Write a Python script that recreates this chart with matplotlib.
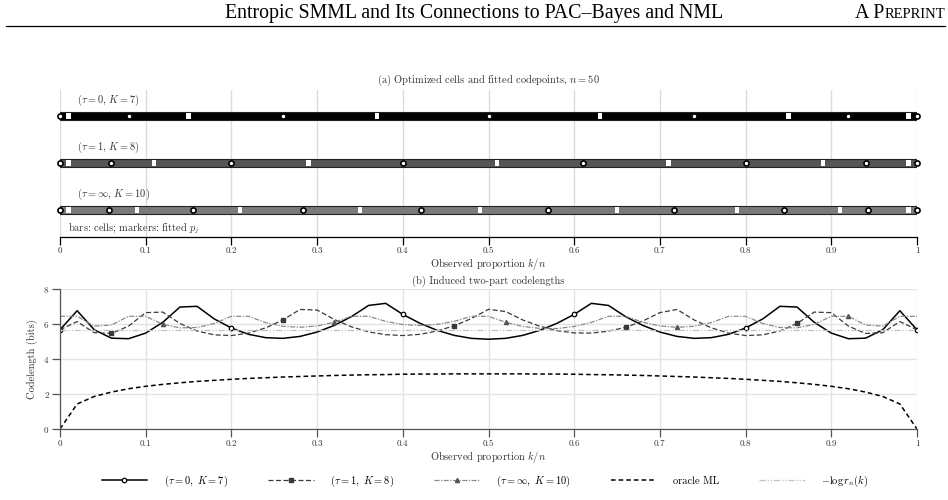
import matplotlib
matplotlib.use('Agg')

import matplotlib.pyplot as plt
import numpy as np

plt.rcParams['font.family'] = ['cmr10', 'DejaVu Serif']
plt.rcParams['mathtext.fontset'] = 'cm'
plt.rcParams['axes.unicode_minus'] = False
plt.rcParams['axes.formatter.use_mathtext'] = True

n = 50
k = np.arange(0, n + 1)
prop = k / n

# panel (a): cell boundaries and fitted codepoints
labels = [r'$(\tau = 0,\, K = 7)$', r'$(\tau = 1,\, K = 8)$', r'$(\tau = \infty,\, K = 10)$']
bounds_t0 = [0.01, 0.15, 0.37, 0.63, 0.85, 0.99]
bounds_t1 = [0.01, 0.11, 0.29, 0.51, 0.71, 0.89, 0.99]
bounds_tinf = [0.01, 0.09, 0.21, 0.35, 0.49, 0.65, 0.79, 0.91, 0.99]
p_t0 = [0.0, 0.08, 0.26, 0.50, 0.74, 0.92, 1.0]
p_t1 = [0.0, 0.06, 0.20, 0.40, 0.61, 0.80, 0.94, 1.0]
p_tinf = [0.0, 0.057, 0.155, 0.283, 0.421, 0.569, 0.717, 0.845, 0.943, 1.0]

# panel (b): codelengths in bits at k/n, k = 0..50
L_t0 = [5.67, 6.76, 5.67, 5.19, 5.16, 5.48, 6.10, 6.97, 7.01, 6.29, 5.77, 5.41, 5.22,
        5.18, 5.29, 5.54, 5.92, 6.42, 7.06, 7.18, 6.55, 6.04, 5.64, 5.35, 5.18, 5.13,
        5.18, 5.35, 5.64, 6.04, 6.55, 7.18, 7.06, 6.42, 5.92, 5.54, 5.29, 5.18, 5.22,
        5.41, 5.77, 6.29, 7.01, 6.97, 6.10, 5.48, 5.16, 5.19, 5.67, 6.76, 5.67]
L_t1 = [5.67, 6.14, 5.50, 5.46, 5.88, 6.65, 6.68, 6.03, 5.60, 5.38, 5.34, 5.48, 5.78,
        6.23, 6.83, 6.80, 6.26, 5.84, 5.55, 5.39, 5.34, 5.41, 5.60, 5.90, 6.31, 6.84,
        6.71, 6.23, 5.87, 5.62, 5.49, 5.48, 5.59, 5.81, 6.17, 6.65, 6.83, 6.23, 5.78,
        5.48, 5.34, 5.38, 5.60, 6.03, 6.68, 6.65, 5.88, 5.46, 5.50, 6.14, 5.67]
L_tinf = [6.44, 6.44, 5.88, 5.94, 6.44, 6.44, 5.98, 5.78, 5.80, 6.03, 6.44, 6.44, 6.08,
          5.87, 5.81, 5.89, 6.10, 6.44, 6.44, 6.15, 5.97, 5.92, 5.98, 6.15, 6.44, 6.44,
          6.10, 5.86, 5.75, 5.74, 5.86, 6.09, 6.44, 6.44, 6.10, 5.89, 5.81, 5.87, 6.08,
          6.44, 6.44, 6.03, 5.80, 5.78, 5.98, 6.44, 6.44, 5.94, 5.88, 6.44, 6.44]
L_oracle = [0.0, 1.43, 1.86, 2.11, 2.30, 2.44, 2.55, 2.64, 2.72, 2.78, 2.84, 2.89, 2.93,
            2.97, 3.00, 3.03, 3.06, 3.08, 3.10, 3.11, 3.13, 3.14, 3.14, 3.15, 3.15, 3.15,
            3.15, 3.15, 3.14, 3.14, 3.13, 3.11, 3.10, 3.08, 3.06, 3.03, 3.00, 2.97, 2.93,
            2.89, 2.84, 2.78, 2.72, 2.64, 2.55, 2.44, 2.30, 2.11, 1.86, 1.43, 0.0]
L_nml = [5.67] * (n + 1)

xticks = [0, 0.1, 0.2, 0.3, 0.4, 0.5, 0.6, 0.7, 0.8, 0.9, 1]
xticklabels = ['0', '0.1', '0.2', '0.3', '0.4', '0.5', '0.6', '0.7', '0.8', '0.9', '1']

txt = '#333333'
fig = plt.figure(figsize=(9.48, 5.0), dpi=100)

# page header
fig.text(474 / 948, 1 - 18 / 500, 'Entropic SMML and Its Connections to PAC\u2013Bayes and NML',
         family='Liberation Serif', fontsize=14.3, ha='center', va='baseline')
t_small = fig.text(945 / 948, 1 - 18 / 500, 'REPRINT', family='Liberation Serif',
                   fontsize=10.5, ha='right', va='baseline')
r = fig.canvas.get_renderer()
x_left = t_small.get_window_extent(r).x0 / fig.bbox.width
fig.text(x_left, 1 - 18 / 500, 'A P', family='Liberation Serif', fontsize=14.3,
         ha='right', va='baseline')
fig.add_artist(plt.Line2D([6 / 948, 945 / 948], [1 - 26 / 500] * 2, color='black', lw=0.9))

# ---- panel (a)
ax1 = fig.add_axes([60 / 948, 1 - 237 / 500, 857 / 948, 147 / 500])
rows = [2, 1, 0]
bar_cols = ['#000000', '#555555', '#7a7a7a']
bounds = [bounds_t0, bounds_t1, bounds_tinf]
points = [p_t0, p_t1, p_tinf]
for y, c, b, p, lab in zip(rows, bar_cols, bounds, points, labels):
    ax1.barh(y, 1.0, left=0, height=0.15, color=c, edgecolor='#222222', lw=0.8, zorder=2)
    ax1.barh([y] * len(b), 0.005, left=np.array(b) - 0.0025, height=0.12,
             color='white', lw=0, zorder=3)
    ax1.plot(p, [y] * len(p), 'o', mfc='white', mec='black', ms=3.7, mew=1.2,
             clip_on=False, zorder=5)
    ax1.text(0.0195, y + 0.33, lab, fontsize=7.5, color=txt, ha='left', va='center')
ax1.text(0.009, -0.40, r'bars: cells; markers: fitted $p_j$', fontsize=7.5, color=txt,
         ha='left', va='center')
ax1.set_xlim(0, 1)
ax1.set_ylim(-0.574, 2.553)
ax1.set_yticks([])
ax1.set_xticks(xticks)
ax1.set_xticklabels(xticklabels)
ax1.xaxis.grid(True, color='#dcdcdc', lw=1)
ax1.set_axisbelow(True)
for s in ['left', 'top', 'right']:
    ax1.spines[s].set_visible(False)
ax1.spines['bottom'].set_linewidth(0.9)
ax1.tick_params(axis='x', length=6, width=0.9, pad=1, labelsize=6.5, labelcolor=txt)
ax1.set_xlabel(r'Observed proportion $k/n$', fontsize=7.5, color=txt, labelpad=0.5)
ax1.set_title(r'(a) Optimized cells and fitted codepoints, $n = 50$', fontsize=7.5,
              color=txt, pad=5)

# ---- panel (b)
ax2 = fig.add_axes([60 / 948, 1 - 429 / 500, 857 / 948, 140 / 500])
h1, = ax2.plot(prop, L_t0, color='black', lw=1.1, ls='-', marker='o', ms=3.2,
               mfc='white', mec='black', mew=0.9, markevery=10,
               label=r'$(\tau = 0,\ K = 7)$')
h2, = ax2.plot(prop, L_t1, color='#3a3a3a', lw=0.9, ls=(0, (4, 2)), marker='s', ms=2.2,
               mfc='#3a3a3a', mec='#3a3a3a', markevery=(3, 10),
               label=r'$(\tau = 1,\ K = 8)$')
h3, = ax2.plot(prop, L_tinf, color='#8a8a8a', lw=0.9, ls=(0, (4, 1.2, 1, 1.2)), marker='^',
               ms=3, mfc='#555555', mec='#555555', markevery=(6, 10),
               label=r'$(\tau = \infty,\ K = 10)$')
h4, = ax2.plot(prop, L_oracle, color='black', lw=1.1, ls=(0, (3, 2)), label='oracle ML')
h5, = ax2.plot(prop, L_nml, color='#c2c2c2', lw=0.9, ls=(0, (5, 1.5, 1, 1.5, 1, 1.5)),
               label=r'$-\log r_n(k)$')
ax2.set_xlim(0, 1)
ax2.set_ylim(0, 8)
ax2.set_xticks(xticks)
ax2.set_xticklabels(xticklabels)
ax2.set_yticks([0, 2, 4, 6, 8])
ax2.grid(True, color='#e3e3e3', lw=1)
ax2.set_axisbelow(True)
for s in ['top', 'right']:
    ax2.spines[s].set_visible(False)
for s in ['left', 'bottom']:
    ax2.spines[s].set_color('#555555')
    ax2.spines[s].set_linewidth(0.9)
ax2.tick_params(length=6, width=0.9, color='#555555', pad=1.5, labelsize=6.5, labelcolor=txt)
ax2.set_xlabel(r'Observed proportion $k/n$', fontsize=7.5, color=txt, labelpad=0.5)
ax2.set_ylabel('Codelength (bits)', fontsize=7.5, color=txt, labelpad=4)
ax2.set_title('(b) Induced two-part codelengths', fontsize=7.5, color=txt, pad=4)

fig.legend(handles=[h1, h2, h3, h4, h5], loc='center', bbox_to_anchor=(485 / 948, 1 - 481 / 500),
           ncol=5, frameon=False, fontsize=7.5, handlelength=4.4, handletextpad=1.6,
           columnspacing=3.8)

fig.savefig('out.png', dpi=100)
